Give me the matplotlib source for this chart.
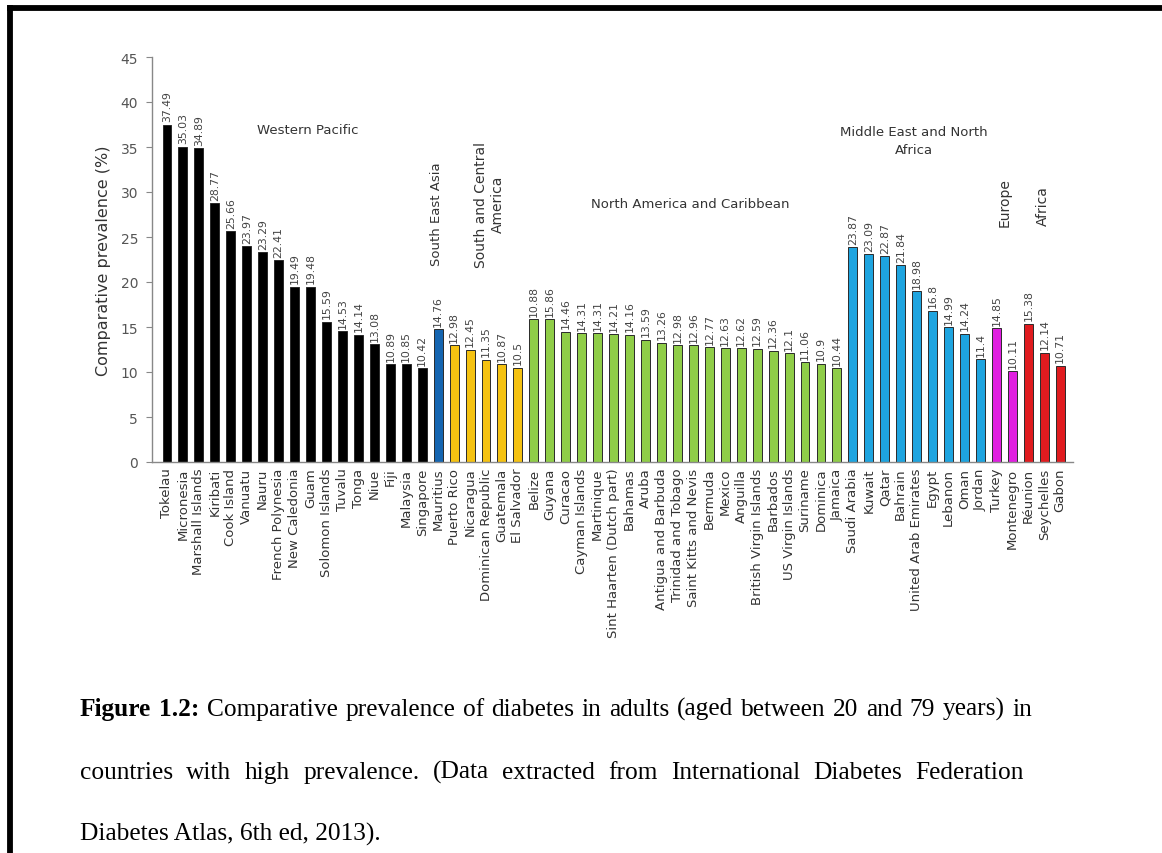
import matplotlib.pyplot as plt
from matplotlib.lines import Line2D
import numpy as np

# --- data ---
western_pacific = ["Tokelau", "Micronesia", "Marshall Islands", "Kiribati", "Cook Island", "Vanuatu",
                   "Nauru", "French Polynesia", "New Caledonia", "Guam", "Solomon Islands", "Tuvalu",
                   "Tonga", "Niue", "Fiji", "Malaysia", "Singapore"]
western_pacific_vals = [37.49, 35.03, 34.89, 28.77, 25.66, 23.97, 23.29, 22.41, 19.49, 19.48,
                        15.59, 14.53, 14.14, 13.08, 10.89, 10.85, 10.42]

south_east_asia = ["Mauritius"]
south_east_asia_vals = [14.76]

south_central_america = ["Puerto Rico", "Nicaragua", "Dominican Republic", "Guatemala", "El Salvador"]
south_central_america_vals = [12.98, 12.45, 11.35, 10.87, 10.5]

north_america = ["Belize", "Guyana", "Curacao", "Cayman Islands", "Martinique", "Sint Haarten (Dutch part)",
                 "Bahamas", "Aruba", "Antigua and Barbuda", "Trinidad and Tobago", "Saint Kitts and Nevis",
                 "Bermuda", "Mexico", "Anguilla", "British Virgin Islands", "Barbados", "US Virgin Islands",
                 "Suriname", "Dominica", "Jamaica"]
north_america_vals = [15.88, 15.86, 14.46, 14.31, 14.31, 14.21, 14.16, 13.59, 13.26, 12.98, 12.96,
                      12.77, 12.63, 12.62, 12.59, 12.36, 12.1, 11.06, 10.9, 10.44]

middle_east = ["Saudi Arabia", "Kuwait", "Qatar", "Bahrain", "United Arab Emirates", "Egypt",
               "Lebanon", "Oman", "Jordan"]
middle_east_vals = [23.87, 23.09, 22.87, 21.84, 18.98, 16.8, 14.99, 14.24, 11.4]

europe = ["Turkey", "Montenegro"]
europe_vals = [14.85, 10.11]

africa = ["Réunion", "Seychelles", "Gabon"]
africa_vals = [15.38, 12.14, 10.71]

groups = [
    (western_pacific, western_pacific_vals, "#000000"),
    (south_east_asia, south_east_asia_vals, "#1565b0"),
    (south_central_america, south_central_america_vals, "#f5c211"),
    (north_america, north_america_vals, "#8fcd48"),
    (middle_east, middle_east_vals, "#1ea4df"),
    (europe, europe_vals, "#e01fe0"),
    (africa, africa_vals, "#e01b1f"),
]

countries, values, colors = [], [], []
for names, vals, col in groups:
    countries += names
    values += vals
    colors += [col] * len(names)

# value labels as printed (the Belize label is misprinted in the source)
value_labels = [f"{v:g}" for v in values]
value_labels[countries.index("Belize")] = "10.88"

# --- figure ---
W, H = 1162, 854
fig = plt.figure(figsize=(W / 100, H / 100), dpi=100)
plt.rcParams['font.family'] = 'DejaVu Sans'

ax = fig.add_axes([152 / W, 1 - 463 / H, (1073 - 152) / W, (463 - 58) / H])
x = np.arange(len(values))
ax.bar(x, values, width=0.56, color=colors, edgecolor="#2a2a2a", linewidth=0.7)

for xi, v, lab in zip(x, values, value_labels):
    ax.annotate(lab, (xi, v), xytext=(0, 2.5), textcoords="offset points",
                rotation=90, ha="center", va="bottom", fontsize=7.8, color="#444444")

ax.set_xlim(-0.94, 56.8)
ax.set_ylim(0, 45)
ax.set_yticks(range(0, 46, 5))
ax.set_xticks(x)
ax.set_xticklabels(countries, rotation=90, fontsize=9.5, color="#333333")
ax.tick_params(axis="x", length=0, pad=4)
ax.tick_params(axis="y", length=4, color="#888888", labelsize=10, labelcolor="#555555", pad=6)
ax.set_ylabel("Comparative prevalence (%)", fontsize=11.5, color="#333333", labelpad=7)
for s in ["top", "right"]:
    ax.spines[s].set_visible(False)
for s in ["left", "bottom"]:
    ax.spines[s].set_color("#888888")
    ax.spines[s].set_linewidth(1.0)

# region names
rc = "#333333"
ax.text(8.84, 37.0, "Western Pacific", ha="center", va="center", fontsize=9.5, color=rc)
ax.text(16.9, 27.6, "South East Asia", rotation=90, ha="center", va="center", fontsize=9.5, color=rc)
ax.text(20.2, 28.7, "South and Central\nAmerica", rotation=90, ha="center", va="center",
        fontsize=10, color=rc, multialignment="center", linespacing=1.3)
ax.text(32.8, 28.7, "North America and Caribbean", ha="center", va="center", fontsize=9.5, color=rc)
ax.text(46.8, 35.7, "Middle East and North\nAfrica", ha="center", va="center", fontsize=9.5,
        color=rc, multialignment="center", linespacing=1.5)
ax.text(52.5, 28.9, "Europe", rotation=90, ha="center", va="center", fontsize=10, color=rc)
ax.text(54.9, 28.6, "Africa", rotation=90, ha="center", va="center", fontsize=10, color=rc)

# page frame (top and left rules of the scanned box)
fig.add_artist(Line2D([9.5 / W, 1.0], [1 - 9 / H, 1 - 9 / H], color="black", linewidth=4.2,
                      transform=fig.transFigure))
fig.add_artist(Line2D([9.5 / W, 9.5 / W], [0.0, 1 - 9 / H], color="black", linewidth=4.2,
                      transform=fig.transFigure))

# caption, justified like the scanned page
cap_font = "Liberation Serif"
cap_size = 18.3
line1 = [("Figure", True), ("1.2:", True), ("Comparative", False), ("prevalence", False), ("of", False),
         ("diabetes", False), ("in", False), ("adults", False), ("(aged", False), ("between", False),
         ("20", False), ("and", False), ("79", False), ("years)", False), ("in", False)]
line2 = [(w, False) for w in "countries with high prevalence. (Data extracted from International Diabetes Federation".split()]
line3 = "Diabetes Atlas, 6th ed, 2013)."

renderer = fig.canvas.get_renderer()


def justified(words, y_px, x0=80, x1=1030):
    texts = []
    for w, bold in words:
        t = fig.text(0, 1 - y_px / H, w, fontsize=cap_size, family=cap_font,
                     weight="bold" if bold else "normal", va="baseline", ha="left")
        texts.append(t)
    widths = [t.get_window_extent(renderer).width for t in texts]
    gap = (x1 - x0 - sum(widths)) / (len(texts) - 1)
    pos = x0
    for t, w in zip(texts, widths):
        t.set_x(pos / W)
        pos += w + gap


justified(line1, 716, x1=1032)
justified(line2, 779, x1=1024)
fig.text(80 / W, 1 - 841 / H, line3, fontsize=cap_size, family=cap_font, va="baseline", ha="left")

fig.savefig("out.png", dpi=100, facecolor="white")
